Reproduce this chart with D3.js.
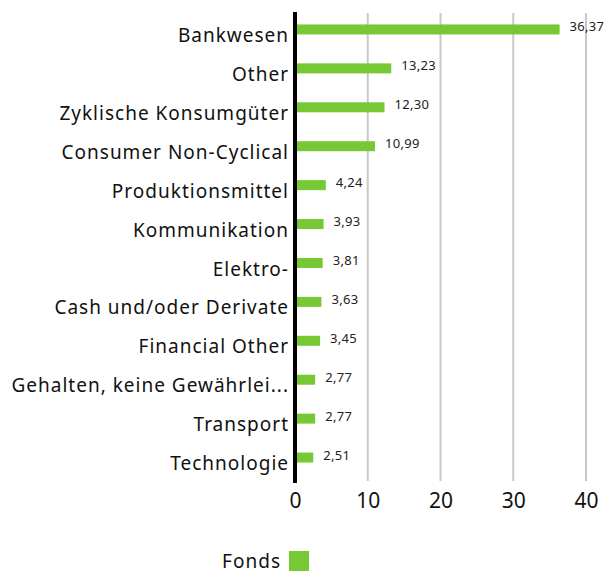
<!DOCTYPE html>
<html>
<head>
<meta charset="utf-8">
<script src="https://cdn.jsdelivr.net/npm/d3@7"></script>
<style>
  body { margin: 0; background: #fff; }
  text { font-family: "Noto Sans", sans-serif; }
</style>
</head>
<body>
<div id="chart"></div>
<script>
// data
var categories = ["Bankwesen", "Other", "Zyklische Konsumgüter", "Consumer Non-Cyclical",
    "Produktionsmittel", "Kommunikation", "Elektro-", "Cash und/oder Derivate",
    "Financial Other", "Gehalten, keine Gewährlei...", "Transport", "Technologie"];
var fondsValues = [36.37, 13.23, 12.30, 10.99, 4.24, 3.93, 3.81, 3.63, 3.45, 2.77, 2.77, 2.51];
var xTicks = [0, 10, 20, 30, 40];
var seriesName = "Fonds";

var width = 606, height = 574;
var margin = {top: 10, left: 295, right: 20};
var plotW = 291, plotH = 467;

var svg = d3.select("#chart").append("svg")
    .attr("width", width)
    .attr("height", height);

var g = svg.append("g")
    .attr("transform", "translate(" + margin.left + "," + margin.top + ")");

var x = d3.scaleLinear().domain([0, 40]).range([0, plotW]);
var y = d3.scaleBand().domain(categories).range([0, plotH]).padding(0);

// grid lines
g.selectAll(".grid")
    .data(xTicks.filter(function(d) { return d > 0; }))
    .enter().append("line")
    .attr("x1", function(d) { return x(d); })
    .attr("x2", function(d) { return x(d); })
    .attr("y1", 3)
    .attr("y2", 471)
    .attr("stroke", "#c8c8c8")
    .attr("stroke-width", 2);

// bars
var barH = 10;
g.selectAll(".bar")
    .data(fondsValues)
    .enter().append("rect")
    .attr("x", 0)
    .attr("y", function(d, i) { return y(categories[i]) + y.bandwidth() / 2 - barH / 2; })
    .attr("width", function(d) { return x(d); })
    .attr("height", barH)
    .attr("fill", "#76c935");

// value labels
g.selectAll(".val")
    .data(fondsValues)
    .enter().append("text")
    .attr("x", function(d) { return x(d) + 10; })
    .attr("y", function(d, i) { return y(categories[i]) + y.bandwidth() / 2 + 2; })
    .attr("font-size", 13)
    .attr("letter-spacing", 0.3)
    .attr("fill", "#222")
    .text(function(d) { return d.toFixed(2).replace(".", ","); });

// category labels
var yAxis = g.append("g")
    .call(d3.axisLeft(y).tickSize(0).tickPadding(6));
yAxis.select(".domain").remove();
yAxis.selectAll("text")
    .attr("font-size", 19)
    .attr("letter-spacing", 1)
    .attr("fill", "#111")
    .attr("dy", "0.66em")
    .style("font-family", "Noto Sans, sans-serif");

// y axis line
g.append("line")
    .attr("x1", 0).attr("x2", 0)
    .attr("y1", 2).attr("y2", 473)
    .attr("stroke", "#000")
    .attr("stroke-width", 4);

// x axis ticks
var xAxis = g.append("g")
    .attr("transform", "translate(0," + 480 + ")")
    .call(d3.axisBottom(x).tickValues(xTicks).tickSize(0).tickPadding(0));
xAxis.select(".domain").remove();
xAxis.selectAll("text")
    .attr("font-size", 21)
    .attr("fill", "#111")
    .attr("dy", "0.85em")
    .style("font-family", "Noto Sans, sans-serif");

// legend
var legend = svg.append("g").attr("transform", "translate(289,551)");
legend.append("rect")
    .attr("width", 20).attr("height", 20)
    .attr("fill", "#76c935");
legend.append("text")
    .attr("x", -8).attr("y", 17)
    .attr("text-anchor", "end")
    .attr("font-size", 19)
    .attr("letter-spacing", 1)
    .attr("fill", "#111")
    .text(seriesName);
</script>
</body>
</html>
